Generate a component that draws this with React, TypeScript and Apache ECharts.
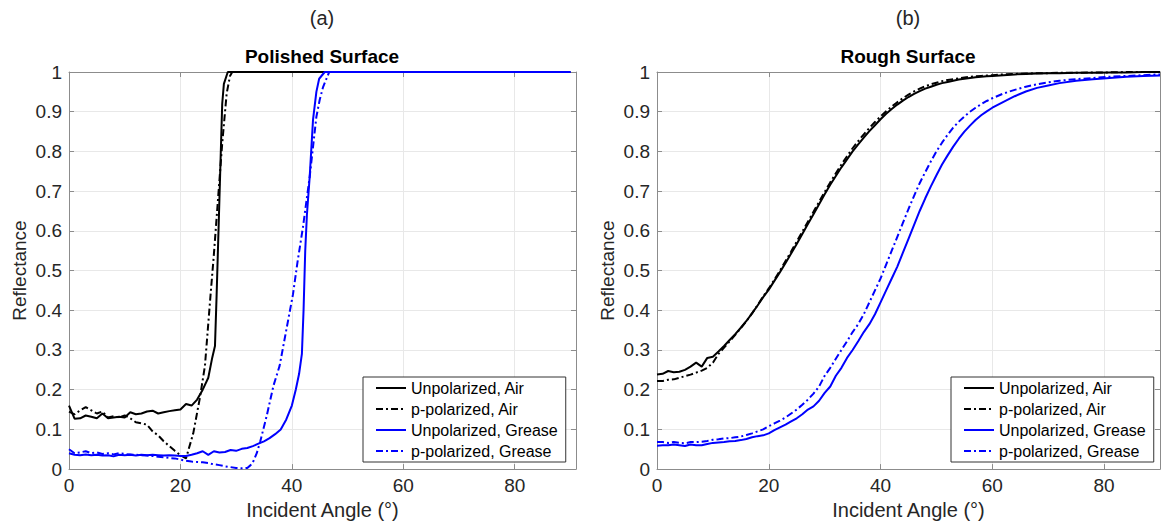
import React, { useEffect, useRef } from "react";
import * as echarts from "echarts";

// ---------- Data: (a) Polished Surface ----------
const polUnpolAirX = [0,1,2,3,4,5,6,7,8,9,10,11,12,13,14,15,16,17,18,19,20,21,22,23,24,25,25.7,26.2,26.5,27,27.5,27.8,28.5,90];
const polUnpolAirY = [0.16,0.127,0.128,0.135,0.132,0.128,0.14,0.128,0.13,0.132,0.13,0.143,0.138,0.14,0.145,0.147,0.14,0.143,0.146,0.148,0.15,0.164,0.16,0.175,0.2,0.23,0.28,0.31,0.44,0.68,0.92,0.97,1.0,1.0];

const polPpolAirX = [0,1,2,3,4,5,6,7,8,9,10,11,12,13,14,15,16,17,18,19,20,21,22.3,23.5,24.4,25.3,26,26.8,27.5,28.3,28.9,29.3,90];
const polPpolAirY = [0.145,0.138,0.148,0.156,0.148,0.14,0.145,0.13,0.133,0.13,0.135,0.128,0.118,0.115,0.112,0.095,0.085,0.07,0.058,0.046,0.035,0.027,0.09,0.18,0.26,0.42,0.54,0.69,0.82,0.946,0.99,1.0,1.0];

const polUnpolGreaseX = [0,1,2,3,4,5,6,7,8,9,10,11,12,13,14,15,16,17,18,19,20,21,22,23,24,25,26,27,28,29,30,31,32,33,34,35,36,37,38,39,40,40.7,41.3,41.8,42.1,42.4,42.7,43.2,43.8,44.4,44.9,45.9,90];
const polUnpolGreaseY = [0.04,0.036,0.035,0.037,0.035,0.036,0.034,0.035,0.032,0.036,0.035,0.036,0.034,0.036,0.035,0.036,0.035,0.034,0.035,0.034,0.033,0.033,0.036,0.04,0.045,0.036,0.045,0.042,0.043,0.048,0.046,0.051,0.053,0.058,0.064,0.07,0.078,0.088,0.1,0.125,0.16,0.2,0.24,0.29,0.4,0.55,0.64,0.736,0.88,0.95,0.983,1.0,1.0];

const polPpolGreaseX = [0,1,2,3,4,5,6,7,8,9,10,11,12,13,14,15,16,17,18,19,20,21,22,23,24,25,26,27,28,29,30,31,32,32.6,33.1,33.7,34.3,35.5,36.7,37.8,39,40.2,41,42,43.2,44.4,45,45.6,46.7,90];
const polPpolGreaseY = [0.05,0.04,0.042,0.045,0.04,0.042,0.038,0.04,0.037,0.04,0.038,0.037,0.036,0.035,0.034,0.033,0.031,0.03,0.028,0.027,0.024,0.021,0.019,0.018,0.017,0.015,0.012,0.01,0.007,0.005,0.003,0.002,0.003,0.01,0.02,0.04,0.068,0.135,0.21,0.26,0.35,0.44,0.52,0.61,0.736,0.887,0.93,0.962,1.0,1.0];

// ---------- Data: (b) Rough Surface ----------
const roughAngles = [0,1,2,3,4,5,6,7,8,9,10,11,12,13,14,15,16,17,18,19,20,21,22,23,24,25,26,27,28,29,30,31,32,33,34,35,36,37,38,39,40,41,42,43,44,45,46,47,48,49,50,51,52,53,54,55,56,57,58,59,60,62,64,66,68,70,72,75,78,81,84,87,90];
const roughUnpolAir = [0.238,0.24,0.247,0.244,0.245,0.25,0.258,0.268,0.258,0.28,0.283,0.296,0.31,0.325,0.34,0.356,0.373,0.392,0.412,0.433,0.452,0.474,0.496,0.519,0.543,0.567,0.592,0.617,0.642,0.667,0.692,0.716,0.738,0.76,0.78,0.8,0.818,0.835,0.851,0.866,0.881,0.895,0.907,0.918,0.928,0.937,0.945,0.952,0.958,0.963,0.968,0.972,0.975,0.978,0.981,0.983,0.985,0.987,0.988,0.989,0.99,0.992,0.994,0.995,0.996,0.997,0.997,0.998,0.998,0.999,0.999,1.0,1.0];
const roughPpolAir = [0.222,0.222,0.225,0.226,0.23,0.234,0.238,0.243,0.248,0.255,0.268,0.29,0.306,0.322,0.338,0.355,0.373,0.392,0.413,0.435,0.455,0.477,0.5,0.524,0.548,0.573,0.598,0.623,0.648,0.673,0.698,0.722,0.745,0.767,0.788,0.808,0.826,0.843,0.859,0.874,0.888,0.901,0.913,0.924,0.934,0.943,0.951,0.958,0.964,0.969,0.973,0.977,0.98,0.982,0.984,0.986,0.988,0.989,0.99,0.991,0.992,0.994,0.995,0.996,0.997,0.997,0.998,0.998,0.999,0.999,1.0,1.0,1.0];
const roughUnpolGrease = [0.059,0.06,0.06,0.062,0.06,0.058,0.062,0.06,0.06,0.063,0.066,0.067,0.068,0.07,0.071,0.073,0.076,0.08,0.083,0.085,0.09,0.098,0.105,0.112,0.12,0.128,0.138,0.15,0.158,0.172,0.192,0.208,0.235,0.255,0.28,0.3,0.322,0.345,0.365,0.39,0.42,0.45,0.48,0.51,0.545,0.58,0.615,0.65,0.682,0.712,0.74,0.767,0.79,0.812,0.832,0.85,0.865,0.879,0.891,0.901,0.91,0.925,0.939,0.951,0.96,0.966,0.972,0.978,0.982,0.985,0.988,0.99,0.991];
const roughPpolGrease = [0.068,0.068,0.066,0.068,0.066,0.065,0.068,0.068,0.069,0.071,0.074,0.075,0.077,0.078,0.08,0.082,0.086,0.09,0.095,0.1,0.108,0.115,0.122,0.13,0.14,0.15,0.162,0.175,0.19,0.208,0.235,0.255,0.278,0.3,0.322,0.345,0.365,0.39,0.42,0.45,0.48,0.515,0.55,0.585,0.62,0.655,0.688,0.72,0.748,0.775,0.8,0.822,0.842,0.86,0.875,0.888,0.9,0.91,0.919,0.927,0.934,0.946,0.955,0.963,0.969,0.974,0.978,0.982,0.985,0.988,0.99,0.992,0.994];

const seriesNames = ["Unpolarized, Air", "p-polarized, Air", "Unpolarized, Grease", "p-polarized, Grease"];
const xTicks = [0, 20, 40, 60, 80];
const panelTitles = ["Polished Surface", "Rough Surface"];
const panelLabels = ["(a)", "(b)"];

const zip = (xs: number[], ys: number[]) => xs.map((x, i) => [x, ys[i]]);

const FONT = "'Liberation Sans', Arial, Helvetica, sans-serif";
const BOX = "#8c8c8c";
const GRIDC = "#e8e8e8";
const TXT = "#262626";
const DASHDOT = [7, 3, 2, 3];

export default function App() {
  const ref = useRef<HTMLDivElement>(null);
  useEffect(() => {
    if (!ref.current) return;
    const chart = echarts.init(ref.current, undefined, { renderer: "svg" });

    const grids = [
      { left: 69, top: 72, width: 507, height: 398.5 },
      { left: 657, top: 72, width: 503, height: 398.5 },
    ];
    const xMax = [91, 90];

    const xAxes: any[] = [];
    const yAxes: any[] = [];
    [0, 1].forEach((g) => {
      xAxes.push({
        gridIndex: g, type: "value", min: 0, max: xMax[g], interval: 20, position: "bottom",
        axisLine: { show: true, onZero: false, lineStyle: { color: BOX, width: 1 } },
        axisTick: { show: true, inside: true, length: 5, lineStyle: { color: BOX } },
        axisLabel: {
          fontSize: 19, color: TXT, fontFamily: FONT, margin: 7, showMaxLabel: g === 1,
          formatter: (v: number) => (xTicks.includes(v) ? String(v) : ""),
        },
        splitLine: { show: true, showMinLine: false, showMaxLine: false, lineStyle: { color: GRIDC, width: 1 } },
        name: "Incident Angle (°)", nameLocation: "middle", nameGap: 30,
        nameTextStyle: { fontSize: 20, color: TXT, fontFamily: FONT },
      });
      xAxes.push({
        gridIndex: g, type: "value", min: 0, max: xMax[g], interval: 20, position: "top",
        axisLine: { show: true, onZero: false, lineStyle: { color: BOX, width: 1 } },
        axisTick: { show: true, inside: true, length: 5, lineStyle: { color: BOX } },
        axisLabel: { show: false }, splitLine: { show: false },
      });
      yAxes.push({
        gridIndex: g, type: "value", min: 0, max: 1, interval: 0.1, position: "left",
        axisLine: { show: true, onZero: false, lineStyle: { color: BOX, width: 1 } },
        axisTick: { show: true, inside: true, length: 5, lineStyle: { color: BOX } },
        axisLabel: { fontSize: 19, color: TXT, fontFamily: FONT, margin: 7 },
        splitLine: { show: true, showMinLine: false, showMaxLine: false, lineStyle: { color: GRIDC, width: 1 } },
        name: "Reflectance", nameLocation: "middle", nameGap: 40, nameRotate: 90,
        nameTextStyle: { fontSize: 19, color: TXT, fontFamily: FONT },
      });
      yAxes.push({
        gridIndex: g, type: "value", min: 0, max: 1, interval: 0.1, position: "right",
        axisLine: { show: true, onZero: false, lineStyle: { color: BOX, width: 1 } },
        axisTick: { show: true, inside: true, length: 5, lineStyle: { color: BOX } },
        axisLabel: { show: false }, splitLine: { show: false },
      });
    });

    const mk = (name: string, data: number[][], g: number, color: string, dashed: boolean) => ({
      name, type: "line", data, xAxisIndex: g * 2, yAxisIndex: g * 2,
      showSymbol: false, symbol: "none", smooth: false,
      lineStyle: { color, width: 2, type: dashed ? DASHDOT : "solid" },
      itemStyle: { color },
      emphasis: { disabled: true },
    });

    const series = [
      mk(seriesNames[0], zip(polUnpolAirX, polUnpolAirY), 0, "#000000", false),
      mk(seriesNames[1], zip(polPpolAirX, polPpolAirY), 0, "#000000", true),
      mk(seriesNames[2], zip(polUnpolGreaseX, polUnpolGreaseY), 0, "#0000ff", false),
      mk(seriesNames[3], zip(polPpolGreaseX, polPpolGreaseY), 0, "#0000ff", true),
      mk(seriesNames[0], zip(roughAngles, roughUnpolAir), 1, "#000000", false),
      mk(seriesNames[1], zip(roughAngles, roughPpolAir), 1, "#000000", true),
      mk(seriesNames[2], zip(roughAngles, roughUnpolGrease), 1, "#0000ff", false),
      mk(seriesNames[3], zip(roughAngles, roughPpolGrease), 1, "#0000ff", true),
    ];

    const legendBase = {
      orient: "vertical", top: 377, data: seriesNames,
      itemWidth: 30, itemHeight: 14, itemGap: 5,
      padding: [3, 8, 3, 12],
      borderColor: "#333", borderWidth: 1, backgroundColor: "#ffffff",
      textStyle: { fontSize: 16, color: "#000", fontFamily: FONT },
      itemStyle: { color: "transparent", borderColor: "transparent", borderWidth: 0, opacity: 0 },
      selectedMode: false,
    };

    chart.setOption({
      animation: false,
      backgroundColor: "#ffffff",
      title: [
        { text: panelLabels[0], left: 322, top: 8, textAlign: "center", padding: 0,
          textStyle: { fontSize: 20, fontWeight: "normal", color: TXT, fontFamily: FONT } },
        { text: panelTitles[0], left: 322, top: 47, textAlign: "center", padding: 0,
          textStyle: { fontSize: 19, fontWeight: "bold", color: "#000", fontFamily: FONT } },
        { text: panelLabels[1], left: 908, top: 8, textAlign: "center", padding: 0,
          textStyle: { fontSize: 20, fontWeight: "normal", color: TXT, fontFamily: FONT } },
        { text: panelTitles[1], left: 908, top: 47, textAlign: "center", padding: 0,
          textStyle: { fontSize: 19, fontWeight: "bold", color: "#000", fontFamily: FONT } },
      ],
      legend: [
        { ...legendBase, left: 363 },
        { ...legendBase, left: 951 },
      ],
      grid: grids,
      xAxis: xAxes,
      yAxis: yAxes,
      series,
    });
    return () => chart.dispose();
  }, []);
  return (
    <div
      ref={ref}
      style={{ position: "absolute", left: 0, top: 0, width: 1164, height: 525, background: "#fff" }}
    />
  );
}
